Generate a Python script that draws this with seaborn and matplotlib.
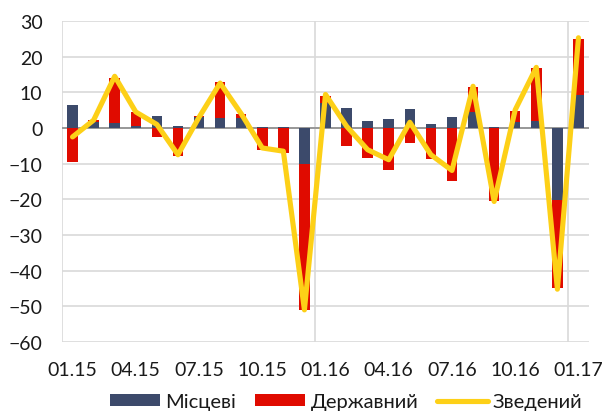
import numpy as np
import pandas as pd
import matplotlib
matplotlib.use("Agg")
import matplotlib.pyplot as plt
import seaborn as sns
from matplotlib.patches import Patch
from matplotlib.lines import Line2D

# Monthly categories 01.15 .. 01.17
months = ["01.15", "02.15", "03.15", "04.15", "05.15", "06.15", "07.15", "08.15",
          "09.15", "10.15", "11.15", "12.15", "01.16", "02.16", "03.16", "04.16",
          "05.16", "06.16", "07.16", "08.16", "09.16", "10.16", "11.16", "12.16",
          "01.17"]

# Місцеві (local)
local = [6.5, 1.6, 1.4, 0.5, 3.3, 0.5, 3.2, 2.8, 2.8, 0.3, 0.3, -10.0,
         7.0, 5.6, 2.0, 2.5, 5.3, 1.0, 3.1, 4.5, 0.2, 1.7, 2.0, -20.1, 9.2]

# Державний (state)
state = [-9.4, 0.6, 12.6, 3.9, -2.6, -7.8, 0.2, 10.0, 1.2, -6.1, -7.0, -41.0,
         2.1, -5.0, -8.3, -11.7, -4.2, -8.7, -14.9, 6.9, -20.6, 3.0, 14.7, -24.8, 15.8]

# Зведений (consolidated)
total = [-2.5, 2.2, 14.5, 4.5, 1.0, -7.5, 3.0, 12.6, 4.0, -5.6, -6.5, -51.0,
         9.4, 0.5, -6.1, -8.9, 1.6, -7.5, -11.9, 11.7, -20.6, 5.1, 17.0, -45.2, 25.3]

series_names = ["Місцеві", "Державний", "Зведений"]

BLUE = "#3C4A6B"
RED = "#E00B00"
YELLOW = "#FDD017"
GRID = "#D9D9D9"
AXIS = "#8C8C8C"
TEXT = "#1A1A1A"

sns.set_style("white")
plt.rcParams["font.family"] = ["Lato", "Open Sans", "DejaVu Sans"]

df = pd.DataFrame({"month": months, "local": local, "state": state, "total": total})
# Excel-style stacking: state sits on top of local when both share a sign
same_sign = np.sign(df["local"]) == np.sign(df["state"])
df["state_outer"] = df["state"] + np.where(same_sign, df["local"], 0.0)

fig = plt.figure(figsize=(6.04, 4.14), dpi=100)
ax = fig.add_axes([62 / 604, 1 - 343 / 414, (589 - 62) / 604, (343 - 22) / 414])

sns.barplot(data=df, x="month", y="state_outer", color=RED, width=0.5,
            saturation=1, linewidth=0, ax=ax, zorder=2)
sns.barplot(data=df, x="month", y="local", color=BLUE, width=0.5,
            saturation=1, linewidth=0, ax=ax, zorder=3)
sns.pointplot(data=df, x="month", y="total", color=YELLOW, markers="",
              linewidth=3.7, ax=ax)
for ln in ax.lines:
    ln.set_zorder(4)
    ln.set_solid_joinstyle("round")
    ln.set_solid_capstyle("round")

ax.set_ylim(-60, 30)
ax.set_xlim(-0.5, len(months) - 0.5)
ax.set_yticks(range(-60, 31, 10))
ax.yaxis.grid(True, color=GRID, linewidth=1.2, zorder=0)
ax.set_axisbelow(True)
ax.axhline(0, color=AXIS, linewidth=1.2, zorder=1)
for xv in [-0.5, 11.5, 23.5]:
    ax.axvline(xv, color=GRID, linewidth=1.2, zorder=0)

ax.set_xticks(range(0, len(months), 3))
ax.set_xticklabels(months[::3])
ax.tick_params(axis="both", length=0, labelsize=14, colors=TEXT)
ax.tick_params(axis="y", pad=14)
ax.tick_params(axis="x", pad=14)
ax.set_xlabel("")
ax.set_ylabel("")
for s in ax.spines.values():
    s.set_visible(False)

handles = [Patch(facecolor=BLUE, edgecolor="none"),
           Patch(facecolor=RED, edgecolor="none"),
           Line2D([0], [0], color=YELLOW, linewidth=3.7, solid_capstyle="round")]
fig.legend(handles, series_names, loc="center", bbox_to_anchor=(346 / 604, 0.027),
           ncol=3, frameon=False, fontsize=14.5, handlelength=2.5, handleheight=0.58,
           handletextpad=0.25, columnspacing=0.95, labelcolor=TEXT,
           borderaxespad=0, borderpad=0)

fig.savefig("out.png", dpi=100)
